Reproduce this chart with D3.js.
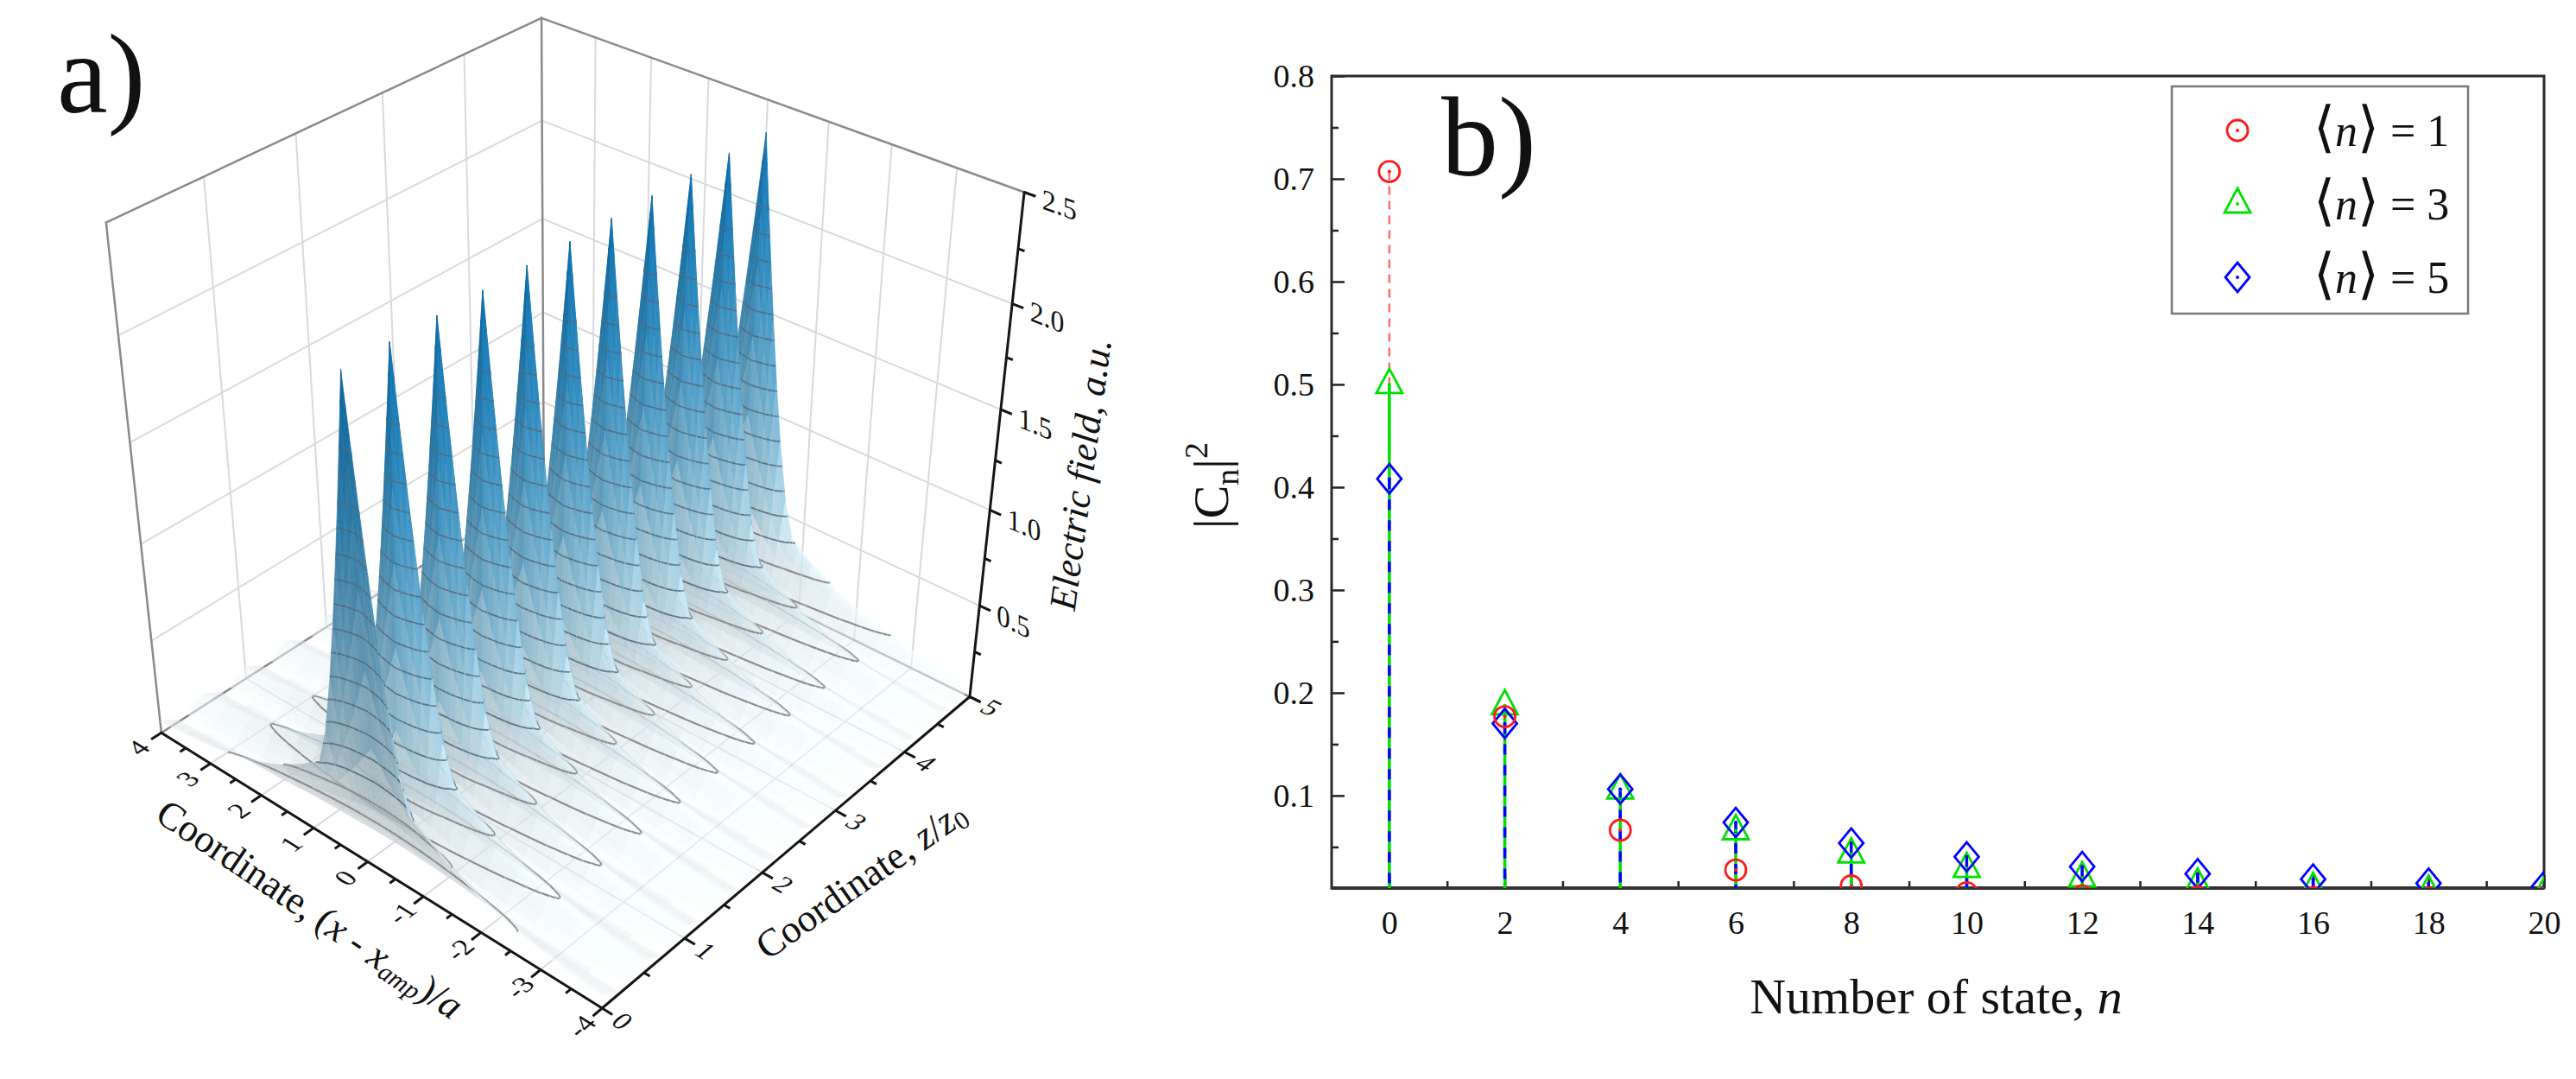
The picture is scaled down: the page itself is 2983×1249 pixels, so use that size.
<!DOCTYPE html>
<html>
<head>
<meta charset="utf-8">
<script src="https://cdn.jsdelivr.net/npm/d3@7"></script>
<style>
  body { margin: 0; background: #fff; }
  svg { display: block; }
  text { font-family: "Liberation Serif", "Times New Roman", serif; fill: #111; }
</style>
</head>
<body>
<svg id="chart" width="2983" height="1249"></svg>
<script>
// ---------- panel b data ----------
var states = [0, 2, 4, 6, 8, 10, 12, 14, 16, 18, 20];
var probMean1 = [0.7071, 0.1768, 0.0663, 0.0276, 0.0121, 0.0054, 0.0025, 0.0012, 0.0005, 0.0003, 0.0001];
var probMean3 = [0.5000, 0.1875, 0.1055, 0.0659, 0.0433, 0.0292, 0.0201, 0.0140, 0.0098, 0.0070, 0.0050];
var probMean5 = [0.4082, 0.1701, 0.1063, 0.0738, 0.0538, 0.0404, 0.0309, 0.0239, 0.0187, 0.0147, 0.0116];
var legendLabels = ["1", "3", "5"];
var yTicksB = [0.1, 0.2, 0.3, 0.4, 0.5, 0.6, 0.7, 0.8];
var yMinorB = [0.05, 0.15, 0.25, 0.35, 0.45, 0.55, 0.65, 0.75];
var xTicksB = [0, 2, 4, 6, 8, 10, 12, 14, 16, 18, 20];
var xMinorB = [1, 3, 5, 7, 9, 11, 13, 15, 17, 19];

// ---------- panel a data ----------
var xTicksA = [-4, -3, -2, -1, 0, 1, 2, 3, 4];
var zTicksA = [0, 1, 2, 3, 4, 5];
var eTicksA = [0.5, 1.0, 1.5, 2.0, 2.5];
var ridgeZ = [0, 0.5, 1, 1.5, 2, 2.5, 3, 3.5, 4, 4.5, 5];
var ridgeSpike = [1.85, 1.85, 1.85, 1.85, 1.85, 1.85, 1.85, 1.85, 1.85, 1.85, 1.85];  // sharp peak part
var ridgeBase = [0.5, 0.5, 0.5, 0.5, 0.5, 0.5, 0.5, 0.5, 0.5, 0.5, 0.5];             // broad low part
// relative cross-sections along x
var profileX = [-4, -3.5, -3, -2.5, -2, -1.6, -1.2, -0.95, -0.8, -0.65, -0.5, -0.38, -0.27, -0.18, -0.1, -0.04, 0,
                0.04, 0.1, 0.18, 0.27, 0.38, 0.5, 0.65, 0.8, 0.95, 1.2, 1.6, 2, 2.5, 3, 3.5, 4];
var spikeXv = [0, 0, 0, 0, 0, 0, 0, 0, 0, 0.081, 0.230, 0.380, 0.539, 0.682, 0.818, 0.926, 1,
               0.926, 0.818, 0.682, 0.539, 0.380, 0.230, 0.081, 0, 0, 0, 0, 0, 0, 0, 0, 0];
var baseXv = [0.123, 0.155, 0.2, 0.265, 0.36, 0.468, 0.61, 0.714, 0.779, 0.842, 0.9, 0.94, 0.969, 0.986, 0.996, 0.999, 1,
              0.999, 0.996, 0.986, 0.969, 0.94, 0.9, 0.842, 0.779, 0.714, 0.61, 0.468, 0.36, 0.265, 0.2, 0.155, 0.123];
// relative cross-sections along z (offset from the ridge centre)
var profileZ = [-0.25, -0.2, -0.15, -0.11, -0.08, -0.055, -0.035, -0.02, -0.008, 0,
                0.008, 0.02, 0.035, 0.055, 0.08, 0.11, 0.15, 0.2, 0.25];
var spikeZv = [0, 0, 0, 0.138, 0.319, 0.504, 0.671, 0.807, 0.921, 1,
               0.921, 0.807, 0.671, 0.504, 0.319, 0.138, 0, 0, 0];
var baseZv = [0.08, 0.2, 0.42, 0.62, 0.76, 0.87, 0.94, 0.98, 1, 1,
              1, 0.98, 0.94, 0.87, 0.76, 0.62, 0.42, 0.2, 0.08];
var contourLevels = [0.125, 0.25, 0.375, 0.5, 0.625, 0.75, 0.875, 1, 1.125, 1.25, 1.375, 1.5,
                     1.625, 1.75, 1.875, 2.0];

var svg = d3.select("#chart");

// =====================================================================
// panel b : stem plot
// =====================================================================
var bLeft = 1542, bRight = 2946, bTop = 88, bBottom = 1028;
var xB = d3.scaleLinear().domain([-1, 20]).range([bLeft, bRight]);
var yB = d3.scaleLinear().domain([0.01, 0.8]).range([bBottom, bTop]);

var gB = svg.append("g");
gB.append("clipPath").attr("id", "clipB").append("rect")
    .attr("x", bLeft).attr("y", bTop).attr("width", bRight - bLeft).attr("height", bBottom - bTop);

gB.append("g").attr("transform", `translate(${bLeft},0)`)
    .call(d3.axisLeft(yB).tickValues(yTicksB).tickFormat(d3.format(".1f"))
        .tickSizeInner(-15).tickSizeOuter(0).tickPadding(20))
    .attr("font-size", 38)
    .call(g => g.select(".domain").remove())
    .call(g => g.selectAll(".tick line").attr("stroke", "#222").attr("stroke-width", 2.5));
gB.append("g").attr("transform", `translate(${bLeft},0)`)
    .call(d3.axisLeft(yB).tickValues(yMinorB).tickFormat("").tickSizeInner(-8).tickSizeOuter(0))
    .call(g => g.select(".domain").remove())
    .call(g => g.selectAll(".tick line").attr("stroke", "#222").attr("stroke-width", 2.5));

gB.append("g").attr("transform", `translate(0,${bBottom})`)
    .call(d3.axisBottom(xB).tickValues(xTicksB).tickSizeInner(-15).tickSizeOuter(0).tickPadding(26))
    .attr("font-size", 38)
    .call(g => g.select(".domain").remove())
    .call(g => g.selectAll(".tick line").attr("stroke", "#222").attr("stroke-width", 2.5));
gB.append("g").attr("transform", `translate(0,${bBottom})`)
    .call(d3.axisBottom(xB).tickValues(xMinorB).tickFormat("").tickSizeInner(-8).tickSizeOuter(0))
    .call(g => g.select(".domain").remove())
    .call(g => g.selectAll(".tick line").attr("stroke", "#222").attr("stroke-width", 2.5));

gB.append("rect").attr("x", bLeft).attr("y", bTop).attr("width", bRight - bLeft).attr("height", bBottom - bTop)
    .attr("fill", "none").attr("stroke", "#2a2a2a").attr("stroke-width", 3);
gB.append("line").attr("x1", bLeft).attr("x2", bRight).attr("y1", bBottom).attr("y2", bBottom)
    .attr("stroke", "#333").attr("stroke-width", 4);

var stems = gB.append("g").attr("clip-path", "url(#clipB)");
function drawStems(vals, color, dash, width, opacity) {
    stems.selectAll(null).data(vals).enter().append("line")
        .attr("x1", (d, i) => xB(states[i])).attr("x2", (d, i) => xB(states[i]))
        .attr("y1", d => yB(d)).attr("y2", bBottom)
        .attr("stroke", color).attr("stroke-width", width)
        .attr("stroke-dasharray", dash).attr("opacity", opacity);
}
drawStems(probMean1, "#ff3b3b", "10,7", 2.5, 0.75);
drawStems(probMean3, "#00e000", null, 3.5, 1);
drawStems(probMean5, "#0000ff", "12,12", 3.5, 1);

var circlePath = "M-12,0A12,12 0 1,0 12,0A12,12 0 1,0 -12,0Z";
var trianglePath = "M0,-18L15,10L-15,10Z";
var diamondPath = "M0,-17L14,0L0,17L-14,0Z";
function drawMarkers(g, vals, path, color) {
    var m = g.selectAll(null).data(vals).enter().append("g")
        .attr("transform", (d, i) => `translate(${xB(states[i])},${yB(d)})`);
    m.append("path").attr("d", path).attr("fill", "none").attr("stroke", color).attr("stroke-width", 2.8);
    m.append("circle").attr("r", 2).attr("fill", color);
}
drawMarkers(stems, probMean3, trianglePath, "#00e000");
drawMarkers(stems, probMean5, diamondPath, "#0000ff");
drawMarkers(stems, probMean1, circlePath, "#ff1a1a");

gB.append("text").attr("x", 2242).attr("y", 1173).attr("text-anchor", "middle").attr("font-size", 58)
    .call(t => { t.append("tspan").text("Number of state, "); t.append("tspan").attr("font-style", "italic").text("n"); });
gB.append("text").attr("transform", "translate(1422,562) rotate(-90)").attr("text-anchor", "middle").attr("font-size", 58)
    .call(t => {
        t.append("tspan").text("|C");
        t.append("tspan").attr("font-size", 38).attr("dy", 12).text("n");
        t.append("tspan").attr("dy", -12).text("|");
        t.append("tspan").attr("font-size", 38).attr("dy", -24).text("2");
    });
gB.append("text").attr("x", 1669).attr("y", 203).attr("font-size", 132).text("b)");

// legend
var lg = gB.append("g");
lg.append("rect").attr("x", 2515).attr("y", 100).attr("width", 343).attr("height", 263)
    .attr("fill", "#fff").attr("stroke", "#7a7a7a").attr("stroke-width", 2.5);
var legendMarks = [[circlePath, "#ff1a1a"], [trianglePath, "#00e000"], [diamondPath, "#0000ff"]];
legendLabels.forEach(function (lab, i) {
    var yy = 151 + i * 85;
    lg.append("path").attr("d", legendMarks[i][0]).attr("transform", `translate(2591,${yy})`)
        .attr("fill", "none").attr("stroke", legendMarks[i][1]).attr("stroke-width", 2.8);
    lg.append("circle").attr("cx", 2591).attr("cy", yy).attr("r", 2).attr("fill", legendMarks[i][1]);
    lg.append("text").attr("x", 2679).attr("y", yy).attr("dy", "0.35em").attr("font-size", 52)
        .style("font-family", "'Liberation Serif','DejaVu Serif','DejaVu Sans',serif")
        .call(t => {
            t.append("tspan").attr("font-size", 64).attr("font-weight", 300).text("\u27E8");
            t.append("tspan").attr("font-style", "italic").text("n");
            t.append("tspan").attr("font-size", 64).attr("font-weight", 300).text("\u27E9");
            t.append("tspan").text(" = " + lab);
        });
});

// =====================================================================
// panel a : 3D surface (perspective box fitted to its corners)
// =====================================================================
var boxAnchors = [
    { w: [-4, 0, 0], s: [695, 1166] },
    { w: [4, 0, 0], s: [188, 848] },
    { w: [-4, 5, 0], s: [1123, 806] },
    { w: [4, 5, 0], s: [629, 564] },
    { w: [4, 0, 2.5], s: [123, 257] },
    { w: [-4, 5, 2.5], s: [1185, 221] },
    { w: [4, 5, 2.5], s: [627, 21] },
    { w: [0, 0, 0], s: [425, 1000] },
    { w: [-4, 2, 0], s: [885, 1008] },
    { w: [-4, 4, 0], s: [1048, 872] },
    { w: [-4, 5, 1.0], s: [1145, 590] },
    { w: [-4, 5, 2.0], s: [1174, 354] }
];

function solveLinear(M, r) {
    var n = r.length;
    for (var c = 0; c < n; c++) {
        var piv = c;
        for (var i = c + 1; i < n; i++) if (Math.abs(M[i][c]) > Math.abs(M[piv][c])) piv = i;
        var tm = M[c]; M[c] = M[piv]; M[piv] = tm;
        var tr = r[c]; r[c] = r[piv]; r[piv] = tr;
        for (var i = c + 1; i < n; i++) {
            var f = M[i][c] / M[c][c];
            for (var j = c; j < n; j++) M[i][j] -= f * M[c][j];
            r[i] -= f * r[c];
        }
    }
    var p = new Array(n);
    for (var i = n - 1; i >= 0; i--) {
        var s = r[i];
        for (var j = i + 1; j < n; j++) s -= M[i][j] * p[j];
        p[i] = s / M[i][i];
    }
    return p;
}

var SU = 650, SV = 600, SS = 500;
var cam = (function () {
    var A = [], b = [];
    boxAnchors.forEach(function (a) {
        var X = a.w[0], Y = a.w[1], Z = a.w[2];
        var u = (a.s[0] - SU) / SS, v = (a.s[1] - SV) / SS;
        A.push([X, Y, Z, 1, 0, 0, 0, 0, -u * X, -u * Y, -u * Z]); b.push(u);
        A.push([0, 0, 0, 0, X, Y, Z, 1, -v * X, -v * Y, -v * Z]); b.push(v);
    });
    var M = [], r = [];
    for (var i = 0; i < 11; i++) {
        M.push([]);
        var s = 0;
        for (var k = 0; k < A.length; k++) s += A[k][i] * b[k];
        r.push(s);
        for (var j = 0; j < 11; j++) {
            var t = 0;
            for (var k = 0; k < A.length; k++) t += A[k][i] * A[k][j];
            M[i].push(t);
        }
    }
    return solveLinear(M, r);
})();

function proj(x, z, e) {
    var w = cam[8] * x + cam[9] * z + cam[10] * e + 1;
    var u = (cam[0] * x + cam[1] * z + cam[2] * e + cam[3]) / w;
    var v = (cam[4] * x + cam[5] * z + cam[6] * e + cam[7]) / w;
    return [u * SS + SU, v * SS + SV, w];
}
function unitDir(p, q) {
    var dx = q[0] - p[0], dy = q[1] - p[1], l = Math.hypot(dx, dy);
    return [dx / l, dy / l];
}
function planeMatrix(pos, base, down) {
    return "matrix(" + [base[0], base[1], down[0], down[1], pos[0], pos[1]].map(v => v.toFixed(4)).join(",") + ")";
}
function seg(g, a, b, color, width) {
    var p = proj(a[0], a[1], a[2]), q = proj(b[0], b[1], b[2]);
    g.append("line").attr("x1", p[0]).attr("y1", p[1]).attr("x2", q[0]).attr("y2", q[1])
        .attr("stroke", color).attr("stroke-width", width).attr("stroke-linecap", "round");
}

var gA = svg.append("g");
var grid = gA.append("g");
var gridColor = "#dadada";
[1, 2, 3, 4].forEach(z => { seg(grid, [4, z, 0], [4, z, 2.5], gridColor, 2); seg(grid, [-4, z, 0], [4, z, 0], gridColor, 2); });
[0.5, 1, 1.5, 2].forEach(e => { seg(grid, [4, 0, e], [4, 5, e], gridColor, 2); seg(grid, [-4, 5, e], [4, 5, e], gridColor, 2); });
[-3, -2, -1, 0, 1, 2, 3].forEach(x => { seg(grid, [x, 5, 0], [x, 5, 2.5], gridColor, 2); seg(grid, [x, 0, 0], [x, 5, 0], gridColor, 2); });
var edgeColor = "#8a8a8a";
seg(grid, [4, 0, 0], [4, 0, 2.5], edgeColor, 2.5);
seg(grid, [4, 5, 0], [4, 5, 2.5], edgeColor, 2.5);
seg(grid, [4, 0, 2.5], [4, 5, 2.5], edgeColor, 2.5);
seg(grid, [4, 5, 2.5], [-4, 5, 2.5], edgeColor, 2.5);
seg(grid, [4, 0, 0], [4, 5, 0], edgeColor, 2.5);
seg(grid, [4, 5, 0], [-4, 5, 0], edgeColor, 2.5);

// surface rows along z
var zRows = [];
ridgeZ.forEach(function (zc, k) {
    profileZ.forEach(function (dz, m) {
        var z = +(zc + dz).toFixed(4);
        if (z < 0 || z > 5) return;
        zRows.push({ z: z, k: k, fs: spikeZv[m], fb: baseZv[m] });
    });
});
zRows.sort((a, b) => a.z - b.z);
var rows = [];
zRows.forEach(function (r) {
    var vals = profileX.map((x, i) => ridgeSpike[r.k] * spikeXv[i] * r.fs + ridgeBase[r.k] * baseXv[i] * r.fb);
    var last = rows[rows.length - 1];
    if (last && Math.abs(last.z - r.z) < 1e-6) last.vals = last.vals.map((v, i) => Math.max(v, vals[i]));
    else rows.push({ z: r.z, vals: vals });
});

var colorE = d3.scaleLinear()
    .domain([0, 0.25, 0.6, 1.1, 1.7, 2.4])
    .range(["#f3f9fb", "#dcedf4", "#b0d8ea", "#74b9dd", "#3798cf", "#0879c1"])
    .clamp(true);
var light = [-0.66, 0.717, -0.22];

var farW = proj(4, 5, 0)[2], nearW = proj(-4, 0, 0)[2];
var quads = [];
for (var j = 0; j < rows.length - 1; j++) {
    for (var i = 0; i < profileX.length - 1; i++) {
        var x0 = profileX[i], x1 = profileX[i + 1], z0 = rows[j].z, z1 = rows[j + 1].z;
        var c = [[x0, z0, rows[j].vals[i]], [x1, z0, rows[j].vals[i + 1]],
                 [x1, z1, rows[j + 1].vals[i + 1]], [x0, z1, rows[j + 1].vals[i]]];
        var vmax = d3.max(c, d => d[2]);
        if (vmax < 0.02) continue;
        var ce = d3.mean(c, d => d[2]);
        quads.push({ c: c, e: ce, depth: proj((x0 + x1) / 2, (z0 + z1) / 2, 0)[2] });
    }
}
quads.sort((a, b) => farW > nearW ? b.depth - a.depth : a.depth - b.depth);

function shade(q) {
    var n = q.c.map(d => [(d[0] + 4) / 8, d[2] / 2.5, d[1] / 5]);
    var a = [n[2][0] - n[0][0], n[2][1] - n[0][1], n[2][2] - n[0][2]];
    var b = [n[3][0] - n[1][0], n[3][1] - n[1][1], n[3][2] - n[1][2]];
    var nx = a[1] * b[2] - a[2] * b[1], ny = a[2] * b[0] - a[0] * b[2], nz = a[0] * b[1] - a[1] * b[0];
    var l = Math.hypot(nx, ny, nz) || 1;
    if (ny < 0) l = -l;
    var t = (nx * light[0] + ny * light[1] + nz * light[2]) / l;
    var f = 0.8 + 0.3 * Math.max(0, t);
    var col = d3.rgb(colorE(q.e));
    return d3.rgb(Math.min(255, col.r * f), Math.min(255, col.g * f), Math.min(255, col.b * f)).formatHex();
}
function fmt(p) { return p[0].toFixed(1) + "," + p[1].toFixed(1); }

var surf = gA.append("g");
quads.forEach(function (q) {
    var pts = q.c.map(d => proj(d[0], d[1], d[2]));
    var col = shade(q);
    var path = "M" + pts.map(fmt).join("L") + "Z";
    var el = surf.append("path").attr("d", path).attr("fill", col);
    if (q.e < 0.45) el.attr("fill-opacity", 0.5 + q.e);
    else el.attr("stroke", col).attr("stroke-width", 0.7);
    var low = "", high = "";
    contourLevels.forEach(function (lv) {
        var cp = [];
        for (var e = 0; e < 4; e++) {
            var a = q.c[e], b = q.c[(e + 1) % 4];
            if ((a[2] - lv) * (b[2] - lv) < 0) {
                var t = (lv - a[2]) / (b[2] - a[2]);
                cp.push(proj(a[0] + t * (b[0] - a[0]), a[1] + t * (b[1] - a[1]), lv));
            }
        }
        var d = "";
        if (cp.length >= 2) d += "M" + fmt(cp[0]) + "L" + fmt(cp[1]);
        if (cp.length === 4) d += "M" + fmt(cp[2]) + "L" + fmt(cp[3]);
        if (lv < 0.3) low += d; else high += d;
    });
    if (low) surf.append("path").attr("d", low).attr("fill", "none").attr("stroke", "#8e8e8e").attr("stroke-width", 2.2);
    if (high) surf.append("path").attr("d", high).attr("fill", "none").attr("stroke", "#55687a")
        .attr("stroke-width", 1.8).attr("stroke-opacity", 0.9);
});

// axes of panel a
var axA = gA.append("g");
var axisColor = "#151515";
seg(axA, [4, 0, 0], [-4, 0, 0], axisColor, 3);
seg(axA, [-4, 0, 0], [-4, 5, 0], axisColor, 3);
seg(axA, [-4, 5, 0], [-4, 5, 2.5], axisColor, 3);

function tick(p, dir, len) {
    axA.append("line").attr("x1", p[0]).attr("y1", p[1])
        .attr("x2", p[0] + dir[0] * len).attr("y2", p[1] + dir[1] * len)
        .attr("stroke", axisColor).attr("stroke-width", 3);
}
d3.range(-8, 9).forEach(function (k) {
    var x = k / 2, p = proj(x, 0, 0);
    tick(p, unitDir(p, proj(x, -1, 0)), k % 2 === 0 ? 14 : 8);
});
d3.range(0, 11).forEach(function (k) {
    var z = k / 2, p = proj(-4, z, 0);
    tick(p, unitDir(p, proj(-5, z, 0)), k % 2 === 0 ? 14 : 8);
});
d3.range(0, 11).forEach(function (k) {
    var e = k / 4, p = proj(-4, 5, e);
    tick(p, unitDir(p, proj(-5, 5, e)), k % 2 === 0 ? 14 : 8);
});

xTicksA.forEach(function (x) {
    var p = proj(x, 0, 0);
    var negZ = unitDir(p, proj(x, -1, 0)), negX = unitDir(p, proj(x - 1, 0, 0));
    var pos = [p[0] + negZ[0] * 32, p[1] + negZ[1] * 32];
    axA.append("text").attr("transform", planeMatrix(pos, [-negZ[0], -negZ[1]], negX))
        .attr("text-anchor", "middle").attr("dominant-baseline", "central").attr("font-size", 32).text(x);
});
zTicksA.forEach(function (z) {
    var p = proj(-4, z, 0);
    var negX = unitDir(p, proj(-5, z, 0)), posZ = unitDir(p, proj(-4, z + 1, 0));
    var pos = [p[0] + negX[0] * 28, p[1] + negX[1] * 28];
    axA.append("text").attr("transform", planeMatrix(pos, negX, [-posZ[0], -posZ[1]]))
        .attr("text-anchor", "middle").attr("dominant-baseline", "central").attr("font-size", 32).text(z);
});
eTicksA.forEach(function (e) {
    var p = proj(-4, 5, e);
    var negX = unitDir(p, proj(-5, 5, e));
    var pos = [p[0] + negX[0] * 22, p[1] + negX[1] * 22];
    axA.append("text").attr("transform", planeMatrix(pos, negX, [0, 1]))
        .attr("dominant-baseline", "central").attr("font-size", 34).text(e.toFixed(1));
});

// axis titles of panel a
(function () {
    var p = proj(0, 0, 0);
    axA.append("text").attr("transform", `translate(${p[0] - 67},${p[1] + 55}) rotate(34)`)
        .attr("text-anchor", "middle").attr("dominant-baseline", "central").attr("font-size", 45)
        .call(t => {
            t.append("tspan").text("Coordinate, (");
            t.append("tspan").attr("font-style", "italic").text("x");
            t.append("tspan").text(" - ");
            t.append("tspan").attr("font-style", "italic").text("x");
            t.append("tspan").attr("font-style", "italic").attr("font-size", 30).attr("dy", 10).text("amp");
            t.append("tspan").attr("dy", -10).text(")/");
            t.append("tspan").attr("font-style", "italic").text("a");
        });

    var q = proj(-4, 2.8, 0);
    axA.append("text").attr("transform", `translate(${q[0] + 46},${q[1] + 66}) rotate(-35)`)
        .attr("text-anchor", "middle").attr("dominant-baseline", "central").attr("font-size", 45)
        .call(t => {
            t.append("tspan").text("Coordinate, ");
            t.append("tspan").attr("font-style", "italic").text("z");
            t.append("tspan").text("/");
            t.append("tspan").attr("font-style", "italic").text("z");
            t.append("tspan").attr("font-size", 30).attr("dy", 10).text("0");
        });

    var r = proj(-4, 5, 1.3);
    axA.append("text").attr("transform", `translate(${r[0] + 112},${r[1] + 30}) rotate(-82.3)`)
        .attr("text-anchor", "middle").attr("font-style", "italic").attr("font-size", 44)
        .text("Electric field, a.u.");
})();

gA.append("text").attr("x", 66).attr("y", 130).attr("font-size", 132).text("a)");
</script>
</body>
</html>
